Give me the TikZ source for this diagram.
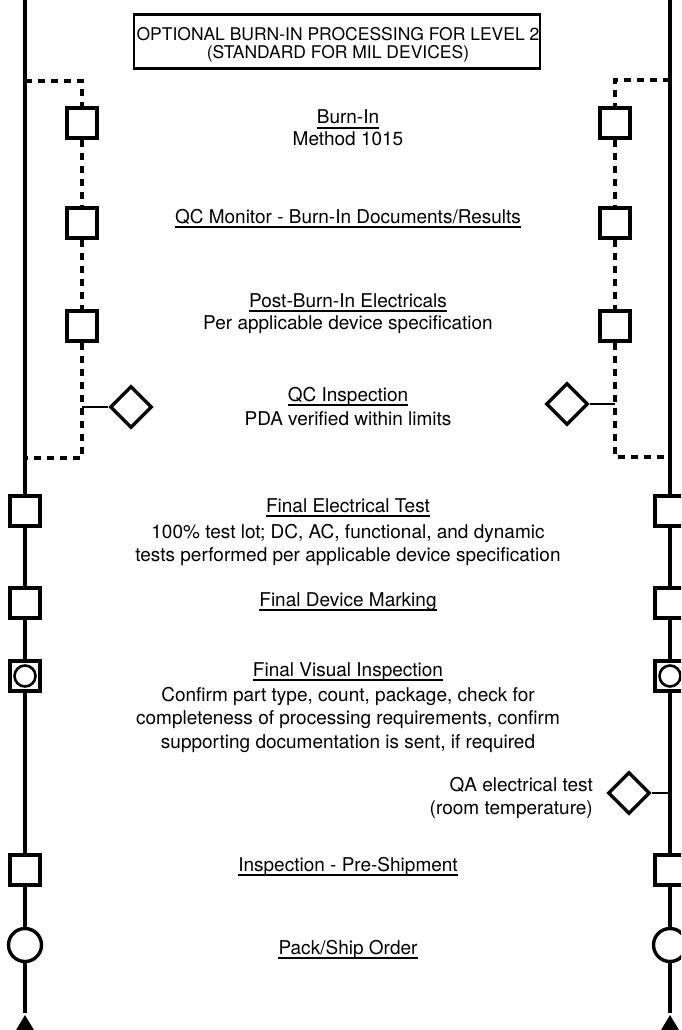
\documentclass[tikz,border=0pt]{standalone}
\usepackage{fontspec}
\setmainfont{TeX Gyre Heros}
\usetikzlibrary{shapes.geometric}

\begin{document}
\begin{tikzpicture}[x=1pt,y=-1pt,
  box/.style={draw, line width=3.4pt, fill=white, minimum size=30pt, inner sep=0pt},
  chk/.style={draw, diamond, line width=3.4pt, fill=white, minimum size=42pt, inner sep=0pt},
  rnd/.style={draw, circle, line width=3.4pt, fill=white, minimum size=33pt, inner sep=0pt},
  flow/.style={line width=3.4pt},
  opt/.style={line width=3.4pt, dash pattern=on 7pt off 6pt},
  lbl/.style={font=\fontsize{19}{23.5}\selectfont, align=center, anchor=base, inner sep=0pt},
  hd/.style={lbl, text depth=4pt},
  uline/.style={line width=1.6pt}]
\clip (0,0) rectangle (681,1030);

% heading box
\node[draw, line width=2.6pt, minimum width=406pt, minimum height=54pt, inner sep=0pt] (title) at (337,41.5) {};
\node[align=center, anchor=base, font=\fontsize{17.5}{18}\selectfont, inner sep=0pt] (ttl) at (338,58.5)
  {OPTIONAL BURN-IN PROCESSING FOR LEVEL 2\\(STANDARD FOR MIL DEVICES)};

% ends of the two process lines
\coordinate (ltop) at (25,0);
\coordinate (lend) at (25,1013);
\coordinate (rtop) at (670,0);
\coordinate (rend) at (670,1013);
\coordinate (lot) at (25,81);
\coordinate (lob) at (25,458);
\coordinate (rot) at (670,80);
\coordinate (rob) at (670,457);

% burn-in loop, left
\node[box] (lb1) at (82,123) {};
\node[box] (lb2) at (82,223) {};
\node[box] (lb3) at (82,326) {};
\node[chk] (lqi) at (131,407) {};
% burn-in loop, right
\node[box] (rb1) at (615,123) {};
\node[box] (rb2) at (615,223) {};
\node[box] (rb3) at (615,326) {};
\node[chk] (rqi) at (567,404) {};

% final steps
\node[box] (lfe) at (25,511) {};
\node[box] (ldm) at (25,603) {};
\node[box] (lvi) at (25,676) {};
\node[draw, circle, line width=2.6pt, minimum size=21pt, inner sep=0pt] (lvc) at (lvi) {};
\node[box] (lps) at (25,870) {};
\node[rnd] (lpo) at (25,945) {};
\node[box] (rfe) at (670,511) {};
\node[box] (rdm) at (670,603) {};
\node[box] (rvi) at (670,676) {};
\node[draw, circle, line width=2.6pt, minimum size=21pt, inner sep=0pt] (rvc) at (rvi) {};
\node[chk] (rqa) at (629,793) {};
\node[box] (rps) at (670,870) {};
\node[rnd] (rpo) at (670,945) {};

\draw[flow] (ltop) -- (lfe) -- (ldm) -- (lvi) -- (lps) -- (lpo) -- (lend);
\draw[flow] (rtop) -- (rfe) -- (rdm) -- (rvi) -- (rps) -- (rpo) -- (rend);
\draw[opt] (lot) -| (lb1);
\draw[opt] (lb1) -- (lb2) -- (lb3);
\draw[opt] (lb3) |- (lob);
\draw[opt] (rot) -| (rb1);
\draw[opt] (rb1) -- (rb2) -- (rb3);
\draw[opt] (rb3) |- (rob);
\draw[line width=2.6pt] (lqi.west) -- (lqi -| lb1);
\draw[line width=2.6pt] (rqi.east) -- (rqi -| rb1);
\draw[line width=2.6pt] (rqa.east) -- (rqa -| rend);

\fill (25,1015) -- (34,1030) -- (16,1030) -- cycle;
\fill (670,1015) -- (679,1030) -- (661,1030) -- cycle;

% step texts (base = last line)
\node[hd] (tbi) at (348,124) {Burn-In};
\node[lbl] (dbi) at (348,146) {Method 1015};
\node[hd] (tqm) at (348,223) {QC Monitor - Burn-In Documents/Results};
\node[hd] (tpb) at (348,307) {Post-Burn-In Electricals};
\node[lbl] (dpb) at (348,329) {Per applicable device specification};
\node[hd] (tqi) at (348,401) {QC Inspection};
\node[lbl] (dqi) at (348,425) {PDA verified within limits};
\node[hd] (tfe) at (348,512) {Final Electrical Test};
\node[lbl] (dfe) at (348,561.5) {100\% test lot; DC, AC, functional, and dynamic\\
  tests performed per applicable device specification};
\node[hd] (tdm) at (348,606) {Final Device Marking};
\node[hd] (tvi) at (348,676) {Final Visual Inspection};
\node[lbl] (dvi) at (348,748) {Confirm part type, count, package, check for\\
  completeness of processing requirements, confirm\\
  supporting documentation is sent, if required};
\node[lbl, align=right, anchor=base east] (tqa) at (593,814.5) {QA electrical test\\(room temperature)};
\node[hd] (tps) at (348,871) {Inspection - Pre-Shipment};
\node[hd] (tpo) at (348,954) {Pack/Ship Order};

\foreach \n in {tbi,tqm,tpb,tqi,tfe,tdm,tvi,tps,tpo}
  \draw[uline] (\n.south west) -- (\n.south east);
\end{tikzpicture}
\end{document}
